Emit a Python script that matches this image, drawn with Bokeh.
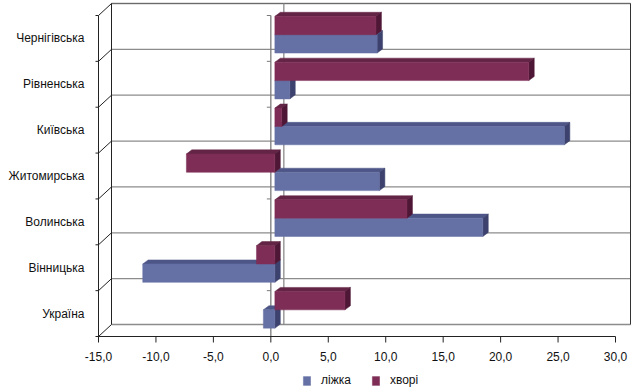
from bokeh.plotting import figure
from bokeh.models import Range1d, Legend, LegendItem
from bokeh.core.properties import value
from bokeh.embed import file_html
from bokeh.resources import INLINE

# ---- data -------------------------------------------------------------
cats = ["Україна", "Вінницька", "Волинська", "Житомирська",
        "Київська", "Рівненська", "Чернігівська"]
beds = [-1.0, -11.5, 18.1, 9.1, 25.2, 1.3, 8.9]        # ліжка
patients = [6.1, -1.6, 11.5, -7.7, 0.6, 22.1, 8.8]    # хворі
series_names = ["ліжка", "хворі"]
x_ticks = [-15, -10, -5, 0, 5, 10, 15, 20, 25, 30]
x_tick_labels = ["-15,0", "-10,0", "-5,0", "0,0", "5,0",
                 "10,0", "15,0", "20,0", "25,0", "30,0"]

# ---- style / geometry -------------------------------------------------
FONT = "Liberation Sans"
FS = "12px"
TXT = "#111111"
FRONT = ["#6570a5", "#7e2e56"]
TOP = ["#4e5688", "#632445"]
SIDE = ["#3c426d", "#4f1736"]

W, H = 635, 390
LEFT = 98            # screen x of the front left edge of the box
AXIS_Y = 336         # screen y of the front value axis
n = len(cats)
PXU = 517 / 45.0     # pixels per x unit
PYU = 321 / 7.0      # pixels per category
XMIN = x_ticks[0] - LEFT / PXU
XMAX = x_ticks[0] + (W - LEFT) / PXU
YMIN = -(H - AXIS_Y) / PYU
YMAX = AXIS_Y / PYU
X0 = x_ticks[0]
DX, DY = 13 / PXU, 12 / PYU          # depth of the 3-D box
XRIGHT = x_ticks[-1] + 15 / PXU      # back wall right edge
OX, OY = 0.31 * DX, 0.31 * DY        # bars' front face depth
BX, BY = 0.42 * DX, 0.34 * DY        # bars' own depth
BAR_H = 0.4
GAP = 0.1

p = figure(width=W, height=H,
           x_range=Range1d(XMIN, XMAX), y_range=Range1d(YMIN, YMAX),
           output_backend="svg", toolbar_location=None,
           x_axis_location=None, y_axis_location=None,
           min_border_left=0, min_border_right=0,
           min_border_top=0, min_border_bottom=0)
p.xgrid.visible = False
p.ygrid.visible = False
p.outline_line_color = None
p.background_fill_color = "white"
p.border_fill_color = "white"

# ---- back wall & floor ------------------------------------------------
bx0 = X0 + DX
gy = [k + DY for k in range(n + 1)]
p.segment(x0=[bx0] * len(gy), y0=gy, x1=[XRIGHT] * len(gy), y1=gy,
          line_color="#8c8c8c", line_width=1.3)
p.segment(x0=[bx0], y0=[n + DY], x1=[XRIGHT], y1=[n + DY], line_color="#6a6a6a", line_width=1)
p.segment(x0=[bx0], y0=[DY], x1=[bx0], y1=[n + DY], line_color="#222222", line_width=1)
p.segment(x0=[XRIGHT], y0=[DY], x1=[XRIGHT], y1=[n + DY], line_color="#333333", line_width=1)
p.segment(x0=[0 + DX], y0=[DY], x1=[0 + DX], y1=[n + DY], line_color="#8c8c8c", line_width=1.3)
ks = list(range(n + 1))
p.segment(x0=[X0] * len(ks), y0=ks, x1=[bx0] * len(ks), y1=[k + DY for k in ks],
          line_color="#222222", line_width=1)

# front zero axis with ticks
p.segment(x0=[0], y0=[0], x1=[0], y1=[n], line_color="#7a7a7a", line_width=1.3)
tk = list(range(1, n + 1))
p.segment(x0=[-4 / PXU] * len(tk), y0=tk, x1=[0] * len(tk), y1=tk,
          line_color="#7a7a7a", line_width=1)

# ---- front category axis ---------------------------------------------
p.segment(x0=[X0], y0=[0], x1=[X0], y1=[n], line_color="#222222", line_width=1)
p.segment(x0=[X0 - 3 / PXU] * len(ks), y0=ks, x1=[X0] * len(ks), y1=ks,
          line_color="#222222", line_width=1)
p.text(x=[X0 - 14 / PXU] * n, y=[i + 0.5 for i in range(n)], text=cats,
       text_font=value(FONT), text_font_size=FS, text_color=TXT,
       text_align="right", text_baseline="middle")

# ---- front value axis -------------------------------------------------
p.segment(x0=[x_ticks[0]], y0=[0], x1=[x_ticks[-1]], y1=[0], line_color="#222222", line_width=1)
p.segment(x0=x_ticks, y0=[0] * len(x_ticks), x1=x_ticks, y1=[-6 / PYU] * len(x_ticks),
          line_color="#222222", line_width=1)
p.text(x=x_ticks, y=[-19.5 / PYU] * len(x_ticks), text=x_tick_labels,
       text_font=value(FONT), text_font_size=FS, text_color=TXT,
       text_align="center", text_baseline="middle")

# ---- 3-D bars ---------------------------------------------------------
rend = [None, None]
for s, vals in enumerate([beds, patients]):
    tx, ty, sx, sy = [], [], [], []
    L, R, B, T = [], [], [], []
    for i, v in enumerate(vals):
        b = i + GAP + BAR_H * s + OY
        t = b + BAR_H
        l = min(0, v) + OX
        r = max(0, v) + OX
        tx.append([l, r, r + BX, l + BX])
        ty.append([t, t, t + BY, t + BY])
        sx.append([r, r, r + BX, r + BX])
        sy.append([b, t, t + BY, b + BY])
        L.append(l); R.append(r); B.append(b); T.append(t)
    p.patches(xs=tx, ys=ty, fill_color=TOP[s], line_color=TOP[s], line_width=0.5)
    p.patches(xs=sx, ys=sy, fill_color=SIDE[s], line_color=SIDE[s], line_width=0.5)
    rend[s] = p.quad(left=L, right=R, bottom=B, top=T,
                     fill_color=FRONT[s], line_color=FRONT[s], line_width=0.5)

# ---- legend -----------------------------------------------------------
legend = Legend(items=[LegendItem(label=series_names[0], renderers=[rend[0]]),
                       LegendItem(label=series_names[1], renderers=[rend[1]])],
                location=(302, 3), orientation="horizontal",
                glyph_width=9, glyph_height=11, label_height=11,
                label_standoff=10, spacing=20,
                padding=0, margin=0, border_line_color=None,
                background_fill_alpha=0,
                label_text_font=FONT, label_text_font_size=FS,
                label_text_color=TXT)
p.add_layout(legend, "center")

open("out.html", "w").write(file_html(p, INLINE))
